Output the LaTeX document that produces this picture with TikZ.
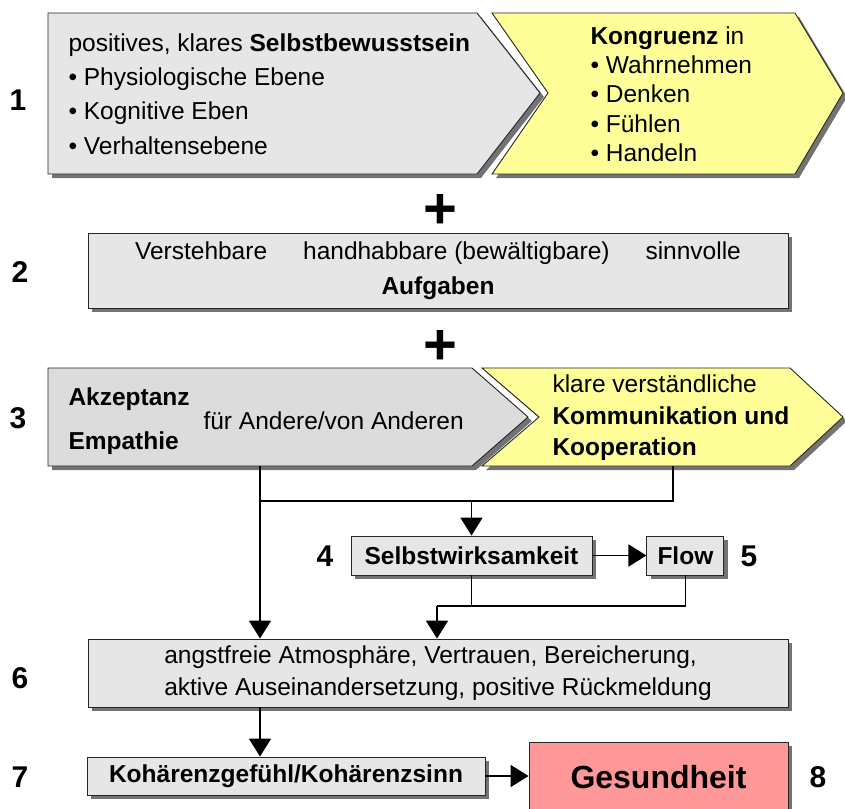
\documentclass[tikz,border=0pt]{standalone}
\usepackage{fontspec}
\setmainfont{Liberation Sans}
\usetikzlibrary{positioning,arrows.meta,shadows}

\definecolor{boxgray}{HTML}{E6E6E6}
\definecolor{chevgray}{HTML}{DCDCDC}
\definecolor{paleyellow}{HTML}{FFFF99}
\definecolor{salmon}{HTML}{FF9999}

\begin{document}
\begin{tikzpicture}[
  x=1pt, y=-1pt,
  font=\fontsize{24.5}{29}\selectfont,
  shadowed/.style={drop shadow={shadow xshift=4pt, shadow yshift=-4pt, fill=black!55, opacity=1}},
  chev/.style={draw=black!85, line width=0.9pt, shadowed},
  box/.style={draw=black!85, line width=0.9pt, fill=boxgray, inner sep=0pt, shadowed},
  boldbox/.style={box, font=\fontsize{24.5}{29}\selectfont\bfseries},
  num/.style={font=\fontsize{30}{30}\selectfont\bfseries},
  plus/.style={font=\fontsize{58}{58}\selectfont\bfseries},
  arrow/.style={-{Triangle[length=18pt,width=22pt]}, line width=1.8pt},
  link/.style={line width=1.8pt}
]
\useasboundingbox (0,0) rectangle (845,808);

% row 1
\path[chev, fill=boxgray] (48,13) -- (477,13) -- (540,93) -- (477,174) -- (48,174) -- cycle;
\path[chev, fill=paleyellow] (492,13) -- (795,13) -- (843,93) -- (795,174) -- (492,174) -- (548,93) -- cycle;
\node[anchor=west, align=left, font=\fontsize{24.5}{34.3}\selectfont] (bewusstsein) at (65,94)
  {positives, klares \textbf{Selbstbewusstsein}\\
   \textbullet\ Physiologische Ebene\\
   \textbullet\ Kognitive Eben\\
   \textbullet\ Verhaltensebene};
\node[anchor=west, align=left, font=\fontsize{24.5}{29.3}\selectfont] (kongruenz) at (587,94)
  {\textbf{Kongruenz} in\\
   \textbullet\ Wahrnehmen\\
   \textbullet\ Denken\\
   \textbullet\ Fühlen\\
   \textbullet\ Handeln};
\node[num] (n1) at (18,100) {1};

\node[plus] (plus1) at (440,211) {+};

% row 2
\node[box, minimum width=700pt, minimum height=75pt, align=center, font=\fontsize{24.5}{35}\selectfont] (aufgaben) at (438,270.5)
  {Verstehbare\hspace{36pt}handhabbare (bewältigbare)\hspace{36pt}sinnvolle\\\textbf{Aufgaben}};
\node[num] (n2) at (20,272) {2};

\node[plus] (plus2) at (440,347) {+};

% row 3
\path[chev, fill=chevgray] (48,368) -- (472,368) -- (528,417) -- (472,466) -- (48,466) -- cycle;
\path[chev, fill=paleyellow] (482,368) -- (790,368) -- (843,417) -- (790,466) -- (482,466) -- (539,417) -- cycle;
\node[anchor=west, align=left, font=\fontsize{24.5}{44}\selectfont\bfseries] (akzeptanz) at (65,421) {Akzeptanz\\Empathie};
\node[anchor=west] (anderen) at (200,421) {für Andere/von Anderen};
\node[anchor=west, align=left, font=\fontsize{24.5}{31.5}\selectfont] (kommunikation) at (549,418)
  {klare verständliche\\\textbf{Kommunikation und}\\\textbf{Kooperation}};
\node[num] (n3) at (18,418) {3};
\coordinate (akzout) at (260,466);
\coordinate (kommout) at (673,466);
\coordinate (split) at (260,501);

% 4 and 5
\node[boldbox, minimum width=241pt, minimum height=39pt] (selbstwirk) at (471.5,555.5) {Selbstwirksamkeit};
\node[boldbox, minimum width=77pt, minimum height=39pt, right=54pt of selbstwirk] (flow) {Flow};
\node[num] (n4) at (325,556) {4};
\node[num] (n5) at (749,556) {5};
\coordinate (merge) at (437,606);

% 6
\node[box, minimum width=700pt, minimum height=68pt, align=left, font=\fontsize{24.5}{32}\selectfont] (atmosphaere) at (438,673)
  {angstfreie Atmosphäre, Vertrauen, Bereicherung,\\aktive Auseinandersetzung, positive Rückmeldung};
\node[num] (n6) at (20,678) {6};

% 7 and 8
\node[boldbox, minimum width=398pt, minimum height=38pt] (kohaerenz) at (286,776) {Kohärenzgefühl/Kohärenzsinn};
\node[box, fill=salmon, minimum width=259pt, minimum height=70pt, font=\fontsize{32}{38}\selectfont\bfseries] (gesundheit) at (658.5,777) {Gesundheit};
\node[num] (n7) at (20,777) {7};
\node[num] (n8) at (818,777) {8};

% connectors
\draw[arrow] (akzout) -- (akzout |- atmosphaere.north);
\draw[link] (kommout) |- (split);
\draw[arrow] (split) -| (selbstwirk);
\draw[arrow] (selbstwirk) -- (flow);
\draw[link] (selbstwirk) |- (merge);
\draw[link] (flow) |- (merge);
\draw[arrow] (merge) -- (merge |- atmosphaere.north);
\draw[arrow] (atmosphaere.south -| akzout) -- (kohaerenz.north -| akzout);
\draw[arrow] (kohaerenz.east) -- (kohaerenz.east -| gesundheit.west);
\end{tikzpicture}
\end{document}
